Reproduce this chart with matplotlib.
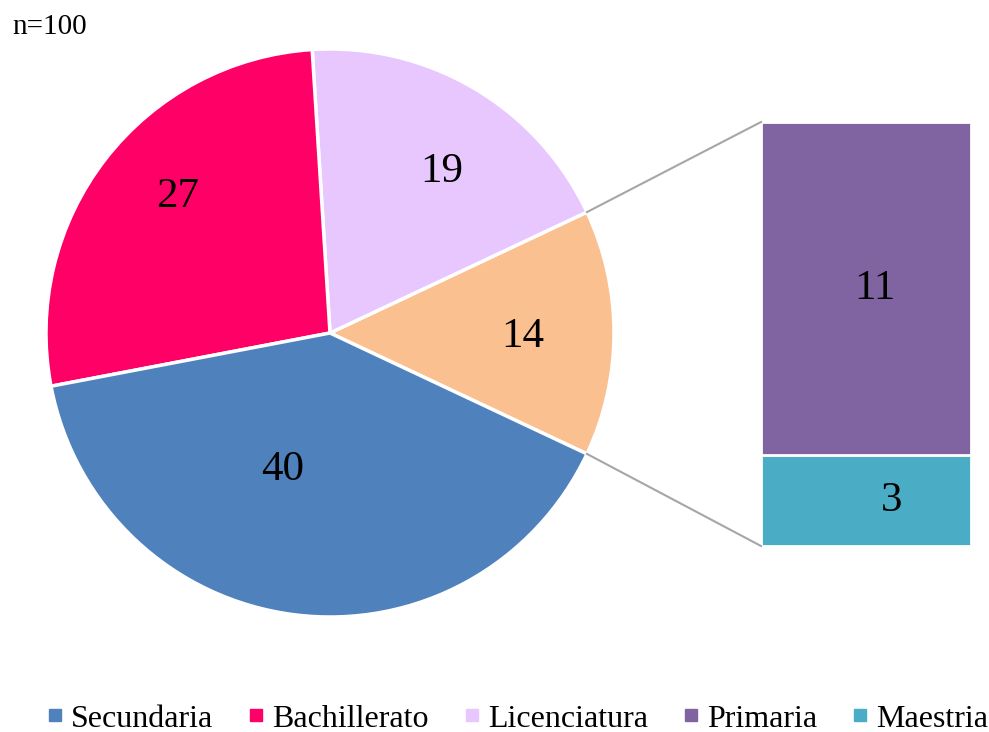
import matplotlib.pyplot as plt
import numpy as np
from matplotlib.lines import Line2D

plt.rcParams['font.family'] = ['Liberation Serif', 'DejaVu Serif']

# pie part (the last slice is split into the bar)
pie_labels = ['Otros', 'Licenciatura', 'Bachillerato', 'Secundaria']
pie_values = [14, 19, 27, 40]
pie_colors = ['#FAC090', '#E8C7FF', '#FF0066', '#4F81BD']

# bar part
bar_labels = ['Maestria', 'Primaria']
bar_values = [3, 11]
bar_colors = ['#4BACC6', '#8064A2']

legend_order = ['Secundaria', 'Bachillerato', 'Licenciatura', 'Primaria', 'Maestria']
legend_colors = ['#4F81BD', '#FF0066', '#E8C7FF', '#8064A2', '#4BACC6']

fig = plt.figure(figsize=(9.89, 7.32), dpi=100)
ax = fig.add_axes([0, 0, 1, 1])
ax.set_xlim(0, 989)
ax.set_ylim(0, 732)
ax.set_aspect('equal')
ax.axis('off')

cx, cy, r = 330, 399, 284
other_angle = 360 * pie_values[0] / sum(pie_values)
wedges, _ = ax.pie(pie_values, colors=pie_colors, startangle=-other_angle / 2,
                   center=(cx, cy), radius=r, frame=True,
                   wedgeprops=dict(edgecolor='white', linewidth=2.5))

# label positions (fraction of radius, angle shift) tuned to the picture
label_dist = [0.68, 0.69, 0.72, 0.51]
label_shift = [-1, -4, -4, -12]
for w, v, d, s in zip(wedges, pie_values, label_dist, label_shift):
    a = np.deg2rad((w.theta1 + w.theta2) / 2 + s)
    ax.text(cx + d * r * np.cos(a), cy + d * r * np.sin(a), str(v),
            ha='center', va='center', fontsize=31)

# stacked bar
bx, bw, by0 = 866, 210, 186
scale = 424 / sum(bar_values)
bottom = by0
for v, c in zip(bar_values, bar_colors):
    ax.bar(bx, v * scale, width=bw, bottom=bottom, color=c,
           edgecolor='white', linewidth=2)
    ax.text(bx + (26 if v < 5 else 9), bottom + v * scale / 2, str(v),
            ha='center', va='center', fontsize=31)
    bottom += v * scale

# connector lines
half = np.deg2rad(other_angle / 2)
ex, ey = cx + r * np.cos(half), r * np.sin(half)
ax.plot([ex, bx - bw / 2], [cy + ey, bottom], color='#A6A6A6', lw=1.5)
ax.plot([ex, bx - bw / 2], [cy - ey, by0], color='#A6A6A6', lw=1.5)

ax.text(12, 705, 'n=100', fontsize=21, va='center', ha='left')

handles = [Line2D([], [], marker='s', linestyle='none', markersize=8.5,
                  markerfacecolor=c, markeredgecolor=c) for c in legend_colors]
fig.legend(handles, legend_order, loc='center', bbox_to_anchor=(0.52, 0.018),
           ncol=5, frameon=False, fontsize=23, handletextpad=0.05,
           columnspacing=0.9, handlelength=0.9, borderpad=0.1)

fig.savefig('out.png', dpi=100)
